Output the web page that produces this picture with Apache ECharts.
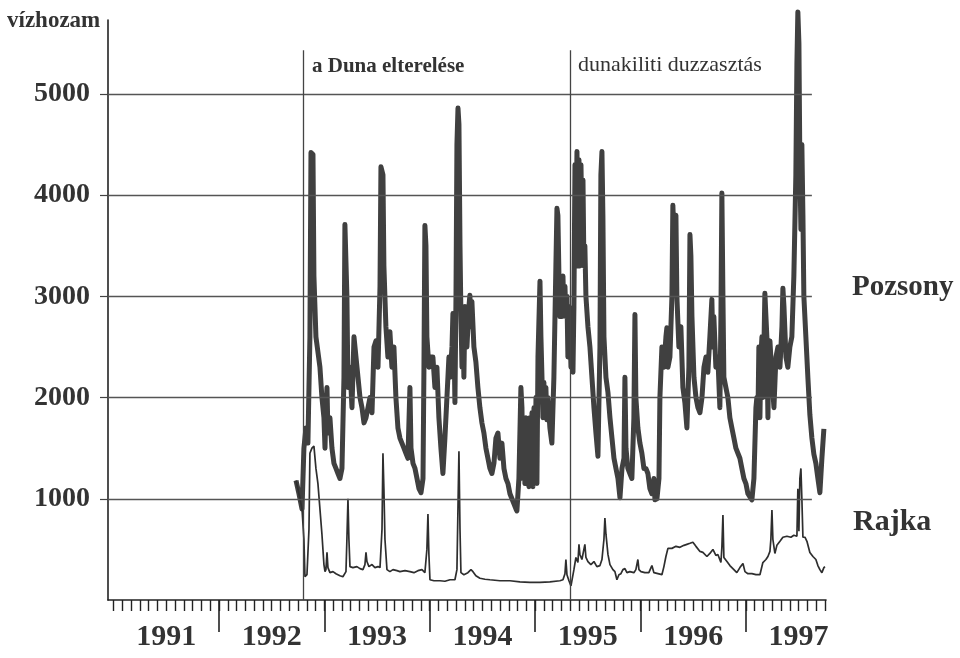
<!DOCTYPE html>
<html>
<head>
<meta charset="utf-8">
<script src="https://cdn.jsdelivr.net/npm/echarts@6/dist/echarts.min.js"></script>
<style>
html,body{margin:0;padding:0;background:#fff;}
#chart{width:960px;height:658px;}
</style>
</head>
<body>
<div id="chart"></div>
<script>
// ---- data (decimal years, m3/s) ----
const yearLabels = [1991, 1992, 1993, 1994, 1995, 1996, 1997];
const yTicks = [1000, 2000, 3000, 4000, 5000];
const events = [
  { t: 1992.797, label: 'a Duna elterelése' },
  { t: 1995.335, label: 'dunakiliti duzzasztás' }
];

const pozsonyT = [1992.731,1992.759,1992.788,1992.806,1992.825,1992.844,1992.863,1992.873,1992.892,1992.901,1992.920,1992.939,1992.958,1992.977,1992.996,
1993.006,1993.015,1993.025,1993.034,1993.053,1993.072,1993.091,1993.110,1993.129,1993.148,1993.167,1993.186,1993.195,1993.214,1993.224,1993.243,1993.262,1993.281,1993.300,1993.319,1993.338,1993.357,1993.376,1993.395,1993.414,1993.433,1993.452,1993.471,1993.490,1993.509,1993.528,1993.537,1993.556,1993.565,1993.584,1993.603,1993.622,1993.641,1993.660,1993.679,1993.698,1993.717,1993.736,1993.755,1993.774,1993.793,1993.812,1993.822,1993.841,1993.860,1993.879,1993.898,1993.917,1993.936,1993.945,1993.954,1993.964,1993.973,1993.992,
1994.011,1994.030,1994.049,1994.068,1994.087,1994.106,1994.125,1994.144,1994.163,1994.182,1994.192,1994.211,1994.220,1994.230,1994.239,1994.249,1994.258,1994.268,1994.277,1994.287,1994.296,1994.306,1994.315,1994.324,1994.334,1994.353,1994.372,1994.381,1994.391,1994.400,1994.419,1994.438,1994.457,1994.476,1994.495,1994.514,1994.533,1994.552,1994.571,1994.590,1994.609,1994.628,1994.647,1994.666,1994.685,1994.704,1994.723,1994.742,1994.761,1994.780,1994.799,1994.818,1994.827,1994.846,1994.865,1994.875,1994.884,1994.894,1994.903,1994.913,1994.922,1994.932,1994.941,1994.951,1994.960,1994.970,1994.979,1994.989,1994.998,
1995.008,1995.017,1995.027,1995.046,1995.055,1995.065,1995.074,1995.083,1995.093,1995.102,1995.112,1995.121,1995.140,1995.159,1995.178,1995.197,1995.207,1995.216,1995.226,1995.235,1995.245,1995.254,1995.264,1995.273,1995.283,1995.292,1995.302,1995.311,1995.321,1995.330,1995.340,1995.349,1995.359,1995.368,1995.378,1995.387,1995.397,1995.406,1995.416,1995.425,1995.435,1995.444,1995.454,1995.463,1995.472,1995.482,1995.501,1995.520,1995.539,1995.558,1995.577,1995.596,1995.615,1995.624,1995.634,1995.643,1995.653,1995.672,1995.691,1995.710,1995.729,1995.748,1995.767,1995.786,1995.805,1995.824,1995.843,1995.852,1995.862,1995.880,1995.899,1995.918,1995.937,1995.947,1995.956,1995.975,1995.994,
1996.013,1996.032,1996.051,1996.070,1996.089,1996.108,1996.127,1996.137,1996.156,1996.175,1996.184,1996.203,1996.222,1996.241,1996.250,1996.260,1996.279,1996.298,1996.307,1996.317,1996.326,1996.336,1996.345,1996.364,1996.383,1996.402,1996.421,1996.440,1996.459,1996.469,1996.478,1996.488,1996.507,1996.526,1996.545,1996.564,1996.583,1996.602,1996.621,1996.639,1996.658,1996.677,1996.687,1996.696,1996.715,1996.734,1996.753,1996.763,1996.772,1996.782,1996.791,1996.810,1996.829,1996.848,1996.867,1996.886,1996.905,1996.924,1996.943,1996.962,1996.981,
1997.000,1997.019,1997.038,1997.057,1997.076,1997.095,1997.104,1997.114,1997.123,1997.133,1997.142,1997.152,1997.161,1997.171,1997.180,1997.190,1997.199,1997.209,1997.218,1997.228,1997.247,1997.266,1997.285,1997.304,1997.323,1997.342,1997.351,1997.361,1997.380,1997.398,1997.417,1997.436,1997.455,1997.474,1997.484,1997.493,1997.503,1997.512,1997.522,1997.531,1997.541,1997.550,1997.569,1997.588,1997.607,1997.626,1997.645,1997.664,1997.683,1997.702,1997.721,1997.740];
const pozsonyQ = [1180,1050,900,1500,1700,1550,2600,4420,4400,3200,2600,2450,2300,2000,1800,
1500,1900,2100,1650,1800,1500,1350,1300,1250,1200,1300,2200,3710,3000,2100,2300,1900,2600,2400,2200,2000,1900,1750,1800,1900,2000,1850,2500,2560,2300,3100,4280,4200,3300,2700,2400,2650,2300,2500,2000,1700,1600,1550,1500,1450,1400,2100,1500,1350,1300,1200,1100,1060,1200,2300,3700,3500,2600,2300,
2400,2400,2100,2300,1800,1500,1250,1600,2000,2400,2200,2500,2830,2600,1950,3000,4500,4860,4700,3500,2800,2300,2800,2200,2900,2500,2900,3010,2700,2950,2500,2350,2100,1900,1750,1650,1500,1400,1300,1250,1350,1600,1650,1400,1550,1300,1200,1150,1050,1000,950,900,880,1200,2100,1900,1200,1700,1150,1800,1150,1700,1120,1800,1150,1850,1120,1900,1200,
2000,1150,2400,3150,2600,2200,1800,2150,1800,2100,1780,2000,1700,1550,2200,3300,3870,3800,3200,2800,3150,2800,3200,2850,3100,2800,3000,2400,2900,2700,2300,2600,2250,2900,4300,3600,4430,3300,4350,3300,4300,3700,4150,3300,3500,3000,2700,2500,2200,1900,1650,1420,2500,4200,4430,3800,2600,2200,2050,1800,1600,1400,1300,1200,1010,1300,1400,2200,1500,1300,1250,1200,1800,2820,2000,1700,1550,
1450,1300,1300,1250,1100,1050,1200,990,1000,1200,2000,2500,2300,2600,2690,2300,2400,3000,3900,3600,3300,3800,3000,2500,2700,2100,1950,1700,2300,3610,3400,2800,2200,2000,1900,1850,2000,2300,2400,2250,2600,2970,2500,2800,2300,2400,1900,2800,4020,3000,2200,2100,2000,1800,1700,1600,1500,1450,1400,1300,1200,
1150,1050,1020,990,1200,1900,2000,1800,2500,1800,2400,2600,2000,2500,3030,2800,2600,1800,2500,2560,2200,1900,2400,2500,2300,2700,3080,2900,2400,2300,2500,2600,3200,4200,5300,5810,5500,4300,3660,4500,3800,3000,2600,2200,1830,1600,1440,1350,1200,1060,1400,1690];

const rajkaT = [1992.731,1992.759,1992.788,1992.806,1992.816,1992.835,1992.854,1992.863,1992.882,1992.901,1992.920,1992.939,1992.958,1992.977,1992.996,
1993.006,1993.015,1993.025,1993.034,1993.053,1993.082,1993.110,1993.148,1993.176,1993.205,1993.214,1993.224,1993.233,1993.243,1993.271,1993.309,1993.338,1993.366,1993.385,1993.395,1993.404,1993.423,1993.452,1993.480,1993.509,1993.528,1993.547,1993.556,1993.565,1993.575,1993.594,1993.622,1993.651,1993.689,1993.717,1993.765,1993.812,1993.850,1993.888,1993.926,1993.954,1993.973,1993.983,1993.992,
1994.002,1994.040,1994.097,1994.144,1994.192,1994.239,1994.258,1994.277,1994.287,1994.296,1994.324,1994.362,1994.391,1994.410,1994.438,1994.476,1994.524,1994.571,1994.666,1994.761,1994.856,1994.951,
1995.046,1995.140,1995.235,1995.264,1995.283,1995.292,1995.302,1995.321,1995.340,1995.349,1995.368,1995.387,1995.406,1995.416,1995.425,1995.444,1995.472,1995.482,1995.501,1995.529,1995.558,1995.586,1995.615,1995.634,1995.653,1995.662,1995.672,1995.691,1995.710,1995.738,1995.757,1995.776,1995.795,1995.814,1995.833,1995.852,1995.871,1995.899,1995.937,1995.956,1995.975,1995.985,
1996.004,1996.041,1996.079,1996.108,1996.127,1996.165,1996.203,1996.222,1996.241,1996.260,1996.298,1996.336,1996.374,1996.412,1996.440,1996.469,1996.497,1996.526,1996.564,1996.592,1996.630,1996.658,1996.687,1996.715,1996.734,1996.763,1996.772,1996.782,1996.791,1996.820,1996.848,1996.886,1996.914,1996.943,1996.972,1996.991,
1997.019,1997.057,1997.095,1997.133,1997.161,1997.190,1997.209,1997.228,1997.237,1997.247,1997.256,1997.275,1997.294,1997.323,1997.351,1997.389,1997.427,1997.455,1997.484,1997.493,1997.503,1997.512,1997.522,1997.531,1997.541,1997.560,1997.579,1997.607,1997.636,1997.664,1997.683,1997.702,1997.721,1997.740,1997.750];
const rajkaQ = [1180,1050,900,600,230,250,700,1450,1500,1520,1300,1150,900,650,350,
280,300,470,320,270,280,260,240,230,280,600,1000,600,330,320,330,310,300,350,470,380,330,350,320,330,320,700,1450,1100,600,300,280,300,290,280,290,280,270,290,300,270,500,850,450,
200,190,190,185,200,200,300,1470,700,270,250,270,300,280,240,215,205,200,190,190,180,175,
175,180,190,200,260,400,250,190,140,130,300,420,370,550,450,400,550,420,380,350,380,330,340,400,600,810,650,450,350,300,280,200,250,260,300,310,270,280,270,300,400,300,
280,270,270,340,270,260,250,330,430,510,510,530,520,540,550,560,570,530,480,470,430,460,500,440,450,370,520,840,420,380,340,300,270,320,360,280,
260,260,250,250,370,400,430,480,600,890,600,460,540,580,620,630,620,640,630,1100,680,1200,1300,1000,620,620,580,470,430,400,340,300,270,320,330];

// ---- layout constants ----
const X_MIN = 1990.947, X_MAX = 1997.76, Y_MAX = 5730;
const GRID_END = 1997.626, EVENT_TOP = 5430;
const INK = '#333333';
const SERIF = "'Liberation Serif', 'Times New Roman', serif";

const zip = (a, b) => a.map((t, i) => [t, b[i]]);

const monthTicks = [];
for (let y = 1991; y <= 1997; y++) {
  for (let m = 0; m < 12; m++) {
    const v = +(y + m / 12).toFixed(4);
    if (v <= X_MAX) monthTicks.push(v);
  }
}

const gridLines = yTicks.map(v => [
  { coord: [X_MIN, v] }, { coord: [GRID_END, v] }
]);
const eventLines = events.map(e => [
  { coord: [e.t, 0] }, { coord: [e.t, EVENT_TOP] }
]);

const chart = echarts.init(document.getElementById('chart'), null, { renderer: 'canvas' });
const option = {
  backgroundColor: '#ffffff',
  animation: false,
  grid: { left: 108, right: 134, top: 20, bottom: 58, containLabel: false },
  xAxis: [
    {
      type: 'value', min: X_MIN, max: X_MAX, position: 'bottom',
      axisLine: { show: true, onZero: false, lineStyle: { color: '#222', width: 1.6 } },
      axisTick: { show: true, customValues: yearLabels.slice(1), length: 32, lineStyle: { color: '#222', width: 1.6 } },
      axisLabel: {
        show: true, customValues: yearLabels.map(y => y + 0.5), margin: 22,
        formatter: v => String(Math.floor(v)),
        fontFamily: SERIF, fontWeight: 'bold', fontSize: 30, color: INK
      },
      splitLine: { show: false }
    },
    {
      type: 'value', min: X_MIN, max: X_MAX, position: 'bottom', offset: 0,
      axisLine: { show: false },
      axisTick: { show: true, customValues: monthTicks, length: 11, lineStyle: { color: '#222', width: 1.4 } },
      axisLabel: { show: false },
      splitLine: { show: false }
    }
  ],
  yAxis: {
    type: 'value', min: 0, max: Y_MAX,
    axisLine: { show: true, onZero: false, lineStyle: { color: '#222', width: 1.6 } },
    axisTick: { show: true, customValues: yTicks, length: 8, lineStyle: { color: '#444', width: 1.2 } },
    axisLabel: {
      customValues: yTicks, margin: 18,
      formatter: v => String(Math.round(v)),
      fontFamily: SERIF, fontWeight: 'bold', fontSize: 28, color: INK
    },
    splitLine: { show: false }
  },
  series: [
    {
      name: 'Pozsony', type: 'line', xAxisIndex: 0, showSymbol: false, clip: false,
      data: zip(pozsonyT, pozsonyQ),
      lineStyle: { color: '#404040', width: 5, join: 'round' },
      z: 3
    },
    {
      name: 'Rajka', type: 'line', xAxisIndex: 0, showSymbol: false, clip: false,
      data: zip(rajkaT, rajkaQ),
      lineStyle: { color: '#2e2e2e', width: 1.7 },
      z: 4,
      markLine: {
        silent: true, symbol: ['none', 'none'], animation: false,
        label: { show: false },
        data: [
          ...gridLines.map(d => [{ ...d[0], lineStyle: { color: '#555', width: 1.3 } }, d[1]]),
          ...eventLines.map(d => [{ ...d[0], lineStyle: { color: '#444', width: 1.3 } }, d[1]])
        ],
        lineStyle: { type: 'solid' }
      }
    }
  ],
  graphic: [
    { type: 'text', left: 7, top: 10, style: { text: 'vízhozam', font: "bold 23px " + SERIF, fill: INK } },
    { type: 'text', left: 852, top: 273, style: { text: 'Pozsony', font: "bold 29px " + SERIF, fill: INK } },
    { type: 'text', left: 853, top: 507, style: { text: 'Rajka', font: "bold 30px " + SERIF, fill: INK } },
    { type: 'text', left: 312, top: 56, style: { text: events[0].label, font: "bold 21px " + SERIF, fill: INK } },
    { type: 'text', left: 578, top: 54, style: { text: events[1].label, font: "22px " + SERIF, fill: INK } }
  ]
};
chart.setOption(option);
</script>
</body>
</html>
